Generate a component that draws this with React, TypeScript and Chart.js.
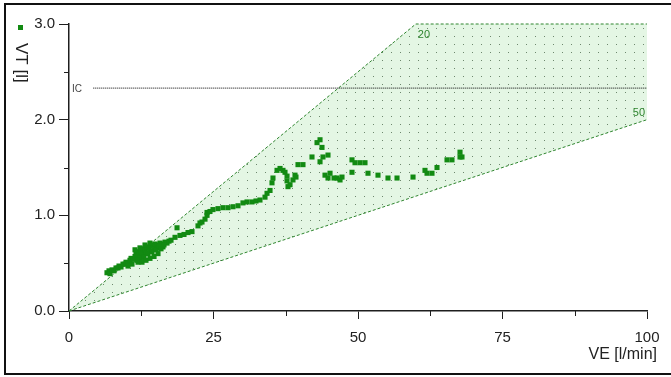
import { useEffect, useRef } from "react";
import { Chart, registerables } from "chart.js";

Chart.register(...registerables);

// Breathing pattern: tidal volume VT [l] against minute ventilation VE [l/min]
const VE_VALUES = [
  6.57, 6.92, 7.09, 7.44, 7.79, 8.13, 8.48, 8.65, 9.0, 9.34, 9.69, 9.86, 10.21, 10.55, 10.73,
  11.07, 11.42, 11.59, 11.94, 12.11, 12.46, 12.63, 12.8, 13.15, 13.32, 13.49, 13.84, 14.01,
  14.19, 14.53, 14.71, 14.88, 15.22, 15.4, 15.74, 16.09, 16.26, 16.61, 16.96, 17.3, 12.28,
  12.98, 13.67, 14.36, 11.76, 15.05, 15.57, 15.92, 16.44, 17.65,
  11.94, 12.63, 13.32, 14.01, 14.71, 15.4, 12.28, 13.15, 14.01, 11.42, 10.9, 10.21,
  18.34, 18.69, 19.2, 19.9, 20.59, 21.28, 22.32, 22.66, 23.01, 23.53, 23.88, 23.88, 24.39,
  24.91, 25.78, 26.64, 27.51, 28.37, 29.24, 30.1, 30.8, 31.66, 32.35, 33.04, 33.91, 34.26,
  34.78, 35.12, 35.29, 35.99, 36.51, 37.02, 37.37, 37.72, 37.72, 37.89, 38.24, 38.75, 39.1,
  39.27, 39.62, 40.48, 42.04, 42.91, 43.43, 43.77, 43.43, 43.94, 44.81, 44.29, 44.81, 45.16,
  45.85, 46.37, 46.89, 47.23, 48.96, 49.48, 50.35, 51.21, 48.96, 51.73, 53.46, 55.19, 56.75,
  59.52, 61.59, 61.94, 62.8, 63.67, 65.4, 66.26, 67.65, 67.65, 67.99,
];
const VT_VALUES = [
  0.4, 0.42, 0.39, 0.43, 0.42, 0.45, 0.45, 0.47, 0.46, 0.49, 0.49, 0.51, 0.5, 0.53, 0.55,
  0.54, 0.57, 0.6, 0.57, 0.62, 0.62, 0.59, 0.65, 0.64, 0.61, 0.67, 0.66, 0.63,
  0.69, 0.68, 0.65, 0.7, 0.69, 0.66, 0.71, 0.7, 0.67, 0.72, 0.71, 0.73, 0.55,
  0.56, 0.6, 0.62, 0.53, 0.64, 0.68, 0.65, 0.69, 0.74,
  0.51, 0.51, 0.53, 0.55, 0.57, 0.6, 0.66, 0.69, 0.71, 0.64, 0.49, 0.47,
  0.77, 0.87, 0.79, 0.8, 0.82, 0.83, 0.89, 0.92, 0.93, 0.96, 1.0, 1.03, 1.04,
  1.06, 1.07, 1.08, 1.08, 1.09, 1.1, 1.13, 1.14, 1.14, 1.15, 1.16, 1.19, 1.23,
  1.26, 1.34, 1.39, 1.47, 1.49, 1.47, 1.45, 1.41, 1.36, 1.3, 1.32, 1.37, 1.42,
  1.4, 1.53, 1.53, 1.61, 1.76, 1.79, 1.71, 1.56, 1.61, 1.63, 1.42, 1.39, 1.44,
  1.39, 1.39, 1.37, 1.4, 1.58, 1.55, 1.55, 1.55, 1.45, 1.44, 1.42, 1.39, 1.39,
  1.4, 1.47, 1.44, 1.44, 1.5, 1.58, 1.58, 1.66, 1.61, 1.61,
];

// Breathing-frequency boundaries of the normal zone (20 and 50 breaths/min), capped at VT = 3 l
const UPPER_VE = [0, 60, 100];
const UPPER_VT = [0, 3, 3];
const LOWER_VE = [0, 60, 100];
const LOWER_VT = [0, 1.2, 2];
const FREQ_LABELS = ["20", "50"];

// Inspiratory capacity
const IC_VE = [4.2, 100];
const IC_VT = [2.33, 2.33];
const IC_LABEL = "IC";

const X_MAJOR = [0, 25, 50, 75, 100];
const X_MINOR = [12.5, 37.5, 62.5, 87.5];
const Y_MAJOR = [0, 1, 2, 3];
const Y_MINOR = [0.5, 1.5, 2.5];

const X_TITLE = "VE [l/min]";
const Y_TITLE = "VT [l]";

const FONT = "'Liberation Sans Narrow', 'Liberation Sans', Arial, sans-serif";
const POINT_GREEN = "#128a12";
const LINE_GREEN = "#2f852f";
const AXIS = "#1e1e1e";

const toXY = (xs: number[], ys: number[]) => xs.map((x, i) => ({ x, y: ys[i] }));

function makeZonePattern(): CanvasPattern | string {
  const tile = document.createElement("canvas");
  tile.width = 9;
  tile.height = 8;
  const t = tile.getContext("2d");
  if (!t) return "#e4f6e4";
  t.fillStyle = "#e4f6e4";
  t.fillRect(0, 0, 9, 8);
  t.fillStyle = "#6d876d";
  t.fillRect(4, 4, 1, 1);
  const p = t.createPattern(tile, "repeat");
  return p || "#e4f6e4";
}

const decorPlugin = {
  id: "decor",
  afterDraw(chart: any) {
    const { ctx, chartArea } = chart;
    const x = chart.scales.x;
    const y = chart.scales.y;
    ctx.save();

    // minor tick marks
    ctx.strokeStyle = AXIS;
    ctx.lineWidth = 1;
    ctx.beginPath();
    for (const v of Y_MINOR) {
      const py = Math.round(y.getPixelForValue(v)) + 0.5;
      ctx.moveTo(chartArea.left - 5, py);
      ctx.lineTo(chartArea.left, py);
    }
    for (const v of X_MINOR) {
      const px = Math.round(x.getPixelForValue(v)) + 0.5;
      ctx.moveTo(px, chartArea.bottom);
      ctx.lineTo(px, chartArea.bottom + 5);
    }
    ctx.stroke();

    // frequency labels on the zone boundaries
    ctx.fillStyle = LINE_GREEN;
    ctx.font = `11px ${FONT}`;
    ctx.textBaseline = "middle";
    ctx.textAlign = "left";
    ctx.fillText(FREQ_LABELS[0], x.getPixelForValue(UPPER_VE[1]) + 2, y.getPixelForValue(UPPER_VT[1]) + 11);
    ctx.textAlign = "right";
    ctx.fillText(FREQ_LABELS[1], x.getPixelForValue(LOWER_VE[2]) - 2, y.getPixelForValue(LOWER_VT[2]) - 7);

    // IC label
    ctx.fillStyle = "#444";
    ctx.font = `10px ${FONT}`;
    ctx.textAlign = "left";
    ctx.fillText(IC_LABEL, chartArea.left + 3, y.getPixelForValue(IC_VT[0]) + 1);

    // axis titles
    ctx.fillStyle = "#222";
    ctx.font = `16px ${FONT}`;
    ctx.textAlign = "right";
    ctx.textBaseline = "middle";
    ctx.fillText(X_TITLE, chartArea.right + 10, 355);

    ctx.save();
    ctx.translate(21, 43);
    ctx.rotate(Math.PI / 2);
    ctx.textAlign = "left";
    ctx.font = `17px ${FONT}`;
    ctx.fillText(Y_TITLE, 0, 0);
    ctx.restore();

    // series marker
    ctx.fillStyle = POINT_GREEN;
    ctx.fillRect(18, 25, 5, 5);

    // frame
    ctx.strokeStyle = "#111";
    ctx.lineWidth = 2;
    ctx.strokeRect(5, 4, 670, 370);
    ctx.restore();
  },
};

export default function App() {
  const canvasRef = useRef<HTMLCanvasElement | null>(null);

  useEffect(() => {
    const canvas = canvasRef.current;
    if (!canvas) return;
    const zone = makeZonePattern();

    const chart = new Chart(canvas, {
      type: "scatter",
      data: {
        datasets: [
          {
            label: "f 20",
            data: toXY(UPPER_VE, UPPER_VT),
            showLine: true,
            borderColor: LINE_GREEN,
            borderWidth: 1,
            borderDash: [3, 2],
            pointRadius: 0,
            fill: false,
            order: 2,
            clip: 4,
          } as any,
          {
            label: "f 50",
            data: toXY(LOWER_VE, LOWER_VT),
            showLine: true,
            borderColor: LINE_GREEN,
            borderWidth: 1,
            borderDash: [3, 2],
            pointRadius: 0,
            fill: { target: 0 },
            backgroundColor: zone,
            order: 3,
            clip: 4,
          } as any,
          {
            label: IC_LABEL,
            data: toXY(IC_VE, IC_VT),
            showLine: true,
            borderColor: "#000",
            borderWidth: 1,
            borderDash: [1, 1],
            pointRadius: 0,
            fill: false,
            order: 1,
          } as any,
          {
            label: "VT",
            data: toXY(VE_VALUES, VT_VALUES),
            pointStyle: "rect",
            pointRadius: 3.6,
            pointBorderWidth: 0,
            backgroundColor: POINT_GREEN,
            borderColor: POINT_GREEN,
            order: 0,
          } as any,
        ],
      },
      options: {
        animation: false,
        responsive: true,
        maintainAspectRatio: false,
        layout: { padding: { top: 24, right: 24, left: 0, bottom: 0 } },
        plugins: {
          legend: { display: false },
          tooltip: { enabled: false },
        },
        scales: {
          x: {
            type: "linear",
            min: 0,
            max: 100,
            afterFit: (s: any) => {
              s.height = 66;
            },
            ticks: {
              stepSize: 12.5,
              autoSkip: false,
              maxRotation: 0,
              padding: 10,
              color: "#222",
              font: { family: FONT, size: 15 },
              callback: (v: any) => (X_MAJOR.includes(Number(v)) ? String(v) : ""),
            },
            grid: {
              display: true,
              drawOnChartArea: false,
              drawTicks: true,
              tickLength: 8,
              tickWidth: 1,
              tickColor: (c: any) => (X_MAJOR.includes(c.tick?.value) ? AXIS : "transparent"),
            },
            border: { display: true, color: AXIS, width: 1.5 },
          },
          y: {
            type: "linear",
            min: 0,
            max: 3,
            afterFit: (s: any) => {
              s.width = 69;
            },
            ticks: {
              stepSize: 0.5,
              autoSkip: false,
              padding: 4,
              color: "#222",
              font: { family: FONT, size: 15 },
              callback: (v: any) => (Y_MAJOR.includes(Number(v)) ? Number(v).toFixed(1) : ""),
            },
            grid: {
              display: true,
              drawOnChartArea: false,
              drawTicks: true,
              tickLength: 10,
              tickWidth: 1,
              tickColor: (c: any) => (Y_MAJOR.includes(c.tick?.value) ? AXIS : "transparent"),
            },
            border: { display: true, color: AXIS, width: 1.5 },
          },
        },
      },
      plugins: [decorPlugin],
    });

    return () => chart.destroy();
  }, []);

  return (
    <div style={{ position: "fixed", left: 0, top: 0, width: 671, height: 377, background: "#fff" }}>
      <canvas ref={canvasRef} />
    </div>
  );
}
